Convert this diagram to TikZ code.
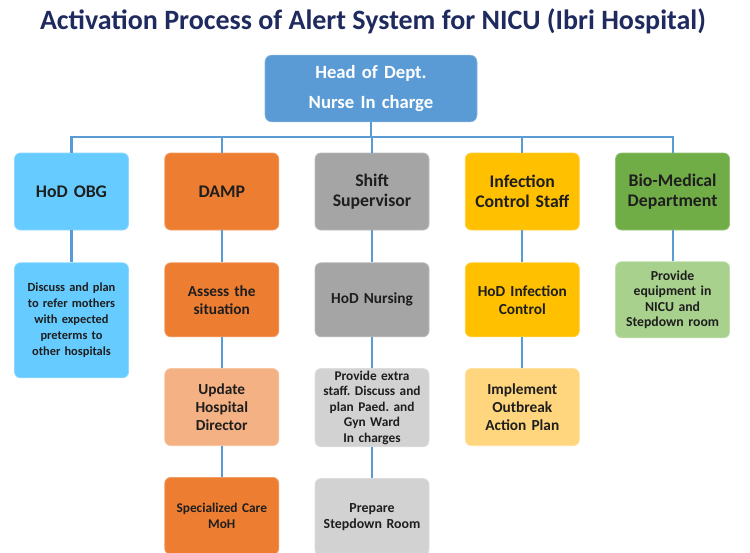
\documentclass[tikz,border=0pt]{standalone}
\usepackage{fontspec}
\setmainfont{Carlito}
\usetikzlibrary{positioning}
\definecolor{titlenavy}{RGB}{31,42,94}
\definecolor{headblue}{RGB}{91,155,213}
\definecolor{skyblue}{RGB}{102,204,255}
\definecolor{dampor}{RGB}{237,125,49}
\definecolor{salmon}{RGB}{244,177,131}
\definecolor{midgray}{RGB}{165,165,165}
\definecolor{palegray}{RGB}{210,210,210}
\definecolor{gold}{RGB}{255,192,0}
\definecolor{paleor}{RGB}{255,214,125}
\definecolor{leafgreen}{RGB}{112,173,71}
\definecolor{palegreen}{RGB}{169,209,142}
\definecolor{boxtext}{RGB}{30,30,30}
\frenchspacing

\begin{document}
\begin{tikzpicture}[x=0.75pt,y=-0.75pt,
    anybox/.style={draw=#1!75!white,fill=#1,rounded corners=4.5pt,
                   line width=0.6pt,text width=82pt,minimum width=85.5pt,
                   inner sep=1.75pt,align=center,text=boxtext},
    headbox/.style={draw=headblue!75!white,fill=headblue,rounded corners=5pt,
                    text width=150pt,minimum width=159pt,minimum height=50pt,
                    align=center,text=white,
                    font=\fontsize{14}{22.5}\selectfont\bfseries},
    unitbox/.style={anybox=#1,minimum height=57.75pt,
                    font=\fontsize{13.3}{15}\selectfont\bfseries},
    taskbox/.style={anybox=#1,minimum height=55.5pt,
                    font=\fontsize{11.5}{13.5}\selectfont\bfseries},
    notebox/.style={anybox=#1,minimum height=57.75pt,
                    font=\fontsize{10}{11.6}\selectfont\bfseries},
    link/.style={draw=headblue,line width=1.6pt},
  ]
    \useasboundingbox (0,0) rectangle (750,553);
    \node[font=\fontsize{21}{25}\selectfont\bfseries,text=titlenavy]
      (title) at (373,21) {Activation Process of Alert System for NICU (Ibri Hospital)};
    \node[headbox](head) at (371,88.5){Head of Dept.\\Nurse In charge};
    % first row
    \node[unitbox=skyblue](obg) at (71.5,191.5){HoD OBG};
    \node[unitbox=dampor,right=26.6pt of obg](damp){DAMP};
    \node[unitbox=midgray,right=26.6pt of damp](shift){Shift\\Supervisor};
    \node[unitbox=gold,right=26.6pt of shift](infc){Infection\\Control Staff};
    \node[unitbox=leafgreen,right=26.6pt of infc](bio){Bio-Medical\\Department};
    % second row
    \node[notebox=skyblue,minimum height=86.25pt,below=24pt of obg,
          font=\fontsize{9.3}{12}\selectfont\bfseries](refer)
      {Discuss and plan\\to refer mothers\\with expected\\preterms to\\other hospitals};
    \node[taskbox=dampor,below=24pt of damp](assess){Assess the\\situation};
    \node[taskbox=midgray,below=24pt of shift](nurs){HoD Nursing};
    \node[taskbox=gold,below=24pt of infc](hodic){HoD Infection\\Control};
    \node[notebox=palegreen,minimum height=57pt,below=23.25pt of bio,
          font=\fontsize{10.3}{11.6}\selectfont\bfseries](equip)
      {Provide\\equipment in\\NICU and\\Stepdown room};
    % third row
    \node[taskbox=salmon,minimum height=57.75pt,below=23.25pt of assess](update)
      {Update\\Hospital\\Director};
    \node[notebox=palegray,below=23.25pt of nurs](staff)
      {Provide extra\\staff. Discuss and\\plan Paed. and\\Gyn Ward\\In charges};
    \node[taskbox=paleor,minimum height=57.75pt,below=23.25pt of hodic](plan)
      {Implement\\Outbreak\\Action Plan};
    % fourth row
    \node[notebox=dampor,below=23.25pt of update](moh){Specialized Care\\MoH};
    \node[notebox=palegray,below=23.25pt of staff,
          font=\fontsize{10.4}{12}\selectfont\bfseries](room){Prepare\\Stepdown Room};
    % connectors
    \coordinate (bus) at ([yshift=12pt]obg.north);
    \draw[link](obg.north) -- (bus) -| (bio.north);
    \draw[link](head.south) -- (head.south |- bus);
    \foreach \n in {damp,shift,infc}
      \draw[link](\n.north) -- (\n.north |- bus);
    \draw[link](obg) -- (refer);
    \draw[link](damp) -- (assess); \draw[link](assess) -- (update);
    \draw[link](update) -- (moh);
    \draw[link](shift) -- (nurs); \draw[link](nurs) -- (staff);
    \draw[link](staff) -- (room);
    \draw[link](infc) -- (hodic); \draw[link](hodic) -- (plan);
    \draw[link](bio) -- (equip);
  \end{tikzpicture}
\end{document}
